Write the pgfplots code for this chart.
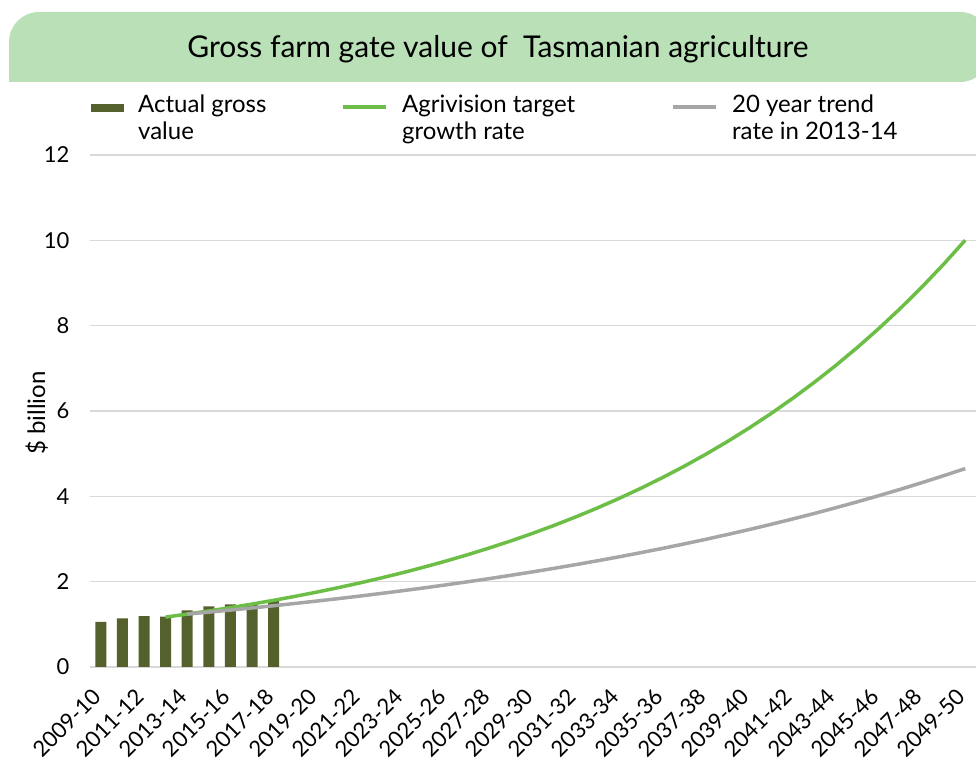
\documentclass[border=0pt]{standalone}
\usepackage{fontspec}
\setmainfont{Lato}
\usepackage{pgfplots}
\pgfplotsset{compat=1.18}
\definecolor{barc}{RGB}{85,97,45}
\definecolor{agri}{RGB}{108,190,70}
\definecolor{trend}{RGB}{166,166,166}
\definecolor{banner}{RGB}{185,224,182}
\definecolor{gridc}{RGB}{217,217,217}
\begin{document}
\begin{tikzpicture}[x=1pt,y=1pt]
\useasboundingbox (0,0) rectangle (976,762);
\fill[banner] (9,680) {[rounded corners=30pt] -- (9,750) -- (990,750) -- (990,680)} -- cycle;
\node[font=\fontsize{30}{36}\selectfont, anchor=base, inner sep=0pt] at (498,704) {Gross farm gate value of\ \ Tasmanian agriculture};
\begin{axis}[
  at={(90pt,95pt)}, anchor=south west,
  width=886pt, height=512pt, scale only axis,
  xmin=-0.5, xmax=40.5, ymin=0, ymax=12,
  axis line style={draw=none},
  ymajorgrids, grid style={gridc, line width=1.2pt},
  major tick length=0pt,
  ytick={0,2,...,12},
  xtick={0,2,...,40},
  xticklabels={2009-10,2011-12,2013-14,2015-16,2017-18,2019-20,2021-22,2023-24,2025-26,2027-28,2029-30,2031-32,2033-34,2035-36,2037-38,2039-40,2041-42,2043-44,2045-46,2047-48,2049-50},
  /pgf/number format/assume math mode=true,
  tick label style={font=\fontsize{22}{26}\selectfont},
  yticklabel style={anchor=east, xshift=-17pt},
  xticklabel style={xshift=-4pt, yshift=-26pt, anchor=east, rotate=45, inner sep=0pt},
  ylabel={\$ billion},
  ylabel style={at={(axis description cs:-0.060,0.496)}, anchor=center, font=\fontsize{24}{28}\selectfont},
  legend columns=3,
  legend style={draw=none, fill=none, inner sep=0pt, at={(axis description cs:0.0011,1.117)}, anchor=north west,
    font=\fontsize{24}{26.6}\selectfont, cells={anchor=base west}, nodes={inner sep=0pt},
    /tikz/every odd column/.append style={column sep=14pt},
    /tikz/every even column/.append style={column sep=0pt}},
]
\addplot[ybar, bar width=11pt, fill=barc, draw=none,
  legend image code/.code={\fill[barc] (0pt,1pt) rectangle (33pt,9pt);}]
  coordinates {(0,1.06) (1,1.14) (2,1.19) (3,1.18) (4,1.33) (5,1.42) (6,1.47) (7,1.48) (8,1.57)};
\addlegendentry{\parbox[t]{203pt}{Actual gross\\value}}
\addplot[agri, line width=3.5pt, line join=round, no marks,
  legend image code/.code={\draw[agri, line width=4pt] (0pt,6pt) -- (43pt,6pt);}]
  coordinates {(3,1.170) (4,1.240) (5,1.314) (6,1.392) (7,1.475) (8,1.563) (9,1.657) (10,1.756)
  (11,1.861) (12,1.972) (13,2.090) (14,2.214) (15,2.347) (16,2.487) (17,2.635) (18,2.793)
  (19,2.959) (20,3.136) (21,3.323) (22,3.522) (23,3.732) (24,3.955) (25,4.191) (26,4.441)
  (27,4.706) (28,4.987) (29,5.285) (30,5.601) (31,5.935) (32,6.290) (33,6.665) (34,7.063)
  (35,7.485) (36,7.932) (37,8.406) (38,8.907) (39,9.439) (40,10.003)};
\addlegendentry{\parbox[t]{269pt}{Agrivision target\\growth rate}}
\addplot[trend, line width=3.5pt, line join=round, no marks,
  legend image code/.code={\draw[trend, line width=4pt] (0pt,6pt) -- (43pt,6pt);}]
  coordinates {(4,1.240) (5,1.286) (6,1.334) (7,1.384) (8,1.436) (9,1.490) (10,1.546)
  (11,1.603) (12,1.663) (13,1.726) (14,1.790) (15,1.857) (16,1.927) (17,1.999) (18,2.073)
  (19,2.151) (20,2.231) (21,2.315) (22,2.401) (23,2.491) (24,2.584) (25,2.681) (26,2.781)
  (27,2.885) (28,2.993) (29,3.105) (30,3.221) (31,3.342) (32,3.467) (33,3.596) (34,3.731)
  (35,3.870) (36,4.015) (37,4.165) (38,4.321) (39,4.483) (40,4.650)};
\addlegendentry{\parbox[t]{200pt}{20 year trend\\rate in 2013-14}}
\end{axis}
\end{tikzpicture}
\end{document}
